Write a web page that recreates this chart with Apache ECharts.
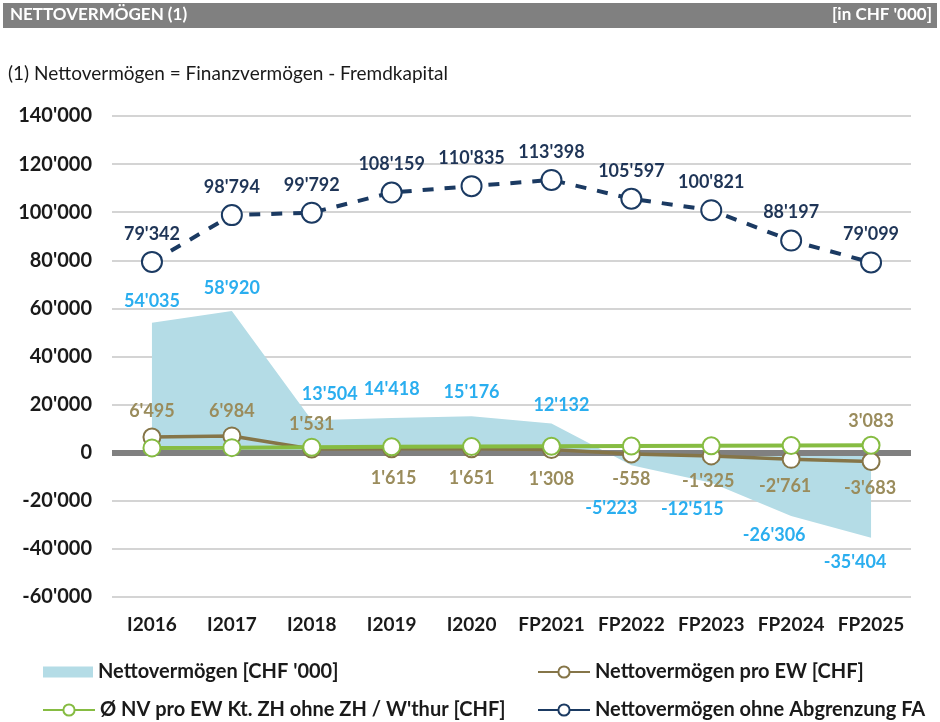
<!DOCTYPE html>
<html><head><meta charset="utf-8">
<script src="https://cdn.jsdelivr.net/npm/echarts@6/dist/echarts.min.js"></script>
<style>html,body{margin:0;padding:0;background:#fff}#c{width:940px;height:722px}</style>
</head><body><div id="c"></div>
<script>
const categories = ['I2016','I2017','I2018','I2019','I2020','FP2021','FP2022','FP2023','FP2024','FP2025'];
const nettoVermoegen = [54035, 58920, 13504, 14418, 15176, 12132, -5223, -12515, -26306, -35404];
const nvProEW = [6495, 6984, 1531, 1615, 1651, 1308, -558, -1325, -2761, -3683];
const nvKtZH = [2000, 2100, 2300, 2500, 2600, 2700, 2800, 2900, 3000, 3083];
const nvOhneFA = [79342, 98794, 99792, 108159, 110835, 113398, 105597, 100821, 88197, 79099];
const yTicks = [-60000, -40000, -20000, 0, 20000, 40000, 60000, 80000, 100000, 120000, 140000];

const seriesNames = ['Nettovermögen [CHF \'000]', 'Nettovermögen pro EW [CHF]', 'Ø NV pro EW Kt. ZH ohne ZH / W\'thur [CHF]', 'Nettovermögen ohne Abgrenzung FA'];

// label layout (offsets in px, not data)
const blueOff = [[0,-7],[0,-8],[18,-12],[0,-14],[0,-10],[10,-4],[-20,28],[-19,12],[-17,5],[-16,10]];
const brownBelow = [false,false,false,true,true,true,true,true,true,true];
const brownOff = [[0,-2],[0,-1],[0,-1],[2,6],[0,6],[0,6],[0,2],[-3,2],[-6,3],[-1,3]];

function fmt(v){
  const s = Math.abs(Math.round(v)).toString().replace(/\B(?=(\d{3})+(?!\d))/g, "'");
  return (v < 0 ? '-' : '') + s;
}
const FONT = 'Lato';
const cBlueFill = '#B4DCE6', cBlueLbl = '#2AAEEF', cBrown = '#857548', cBrownLbl = '#9A8C5C', cGreen = '#86BC42', cNavy = '#1B3A62';

const blueData = nettoVermoegen.map((v,i)=>({value:v, label:{position: v>=0?'top':'bottom', offset: blueOff[i]}}));
const brownData = nvProEW.map((v,i)=>({value:v, label:{position: brownBelow[i]?'bottom':'top', offset: brownOff[i]}}));
const greenData = nvKtZH.map((v,i)=>({value:v, label:{show: i===nvKtZH.length-1}}));

const chart = echarts.init(document.getElementById('c'), null, {renderer:'canvas'});
const lblBase = {fontFamily: FONT, fontWeight: 'bold', fontSize: 18};
const legText = {fontFamily:FONT, fontSize:20, fontWeight:'bold', color:'#1a1a1a'};
chart.setOption({
  animation: false,
  textStyle: {fontFamily: FONT},
  graphic: [
    {type:'rect', shape:{x:3, y:3, width:934, height:25}, style:{fill:'#808080'}, z:0},
    {type:'text', left:10, top:6, style:{text:'NETTOVERMÖGEN (1)', fill:'#fff', font:'bold 17px Lato'}},
    {type:'text', right:8, top:6, style:{text:"[in CHF '000]", fill:'#fff', font:'bold 17px Lato', textAlign:'right'}},
    {type:'text', left:8, top:64, style:{text:'(1) Nettovermögen = Finanzvermögen - Fremdkapital', fill:'#1a1a1a', font:'19px Lato'}}
  ],
  grid: {left:112, right:29, top:116, bottom:125, containLabel:false},
  xAxis: {
    type:'category', data: categories, boundaryGap:true,
    axisLine:{show:false}, axisTick:{show:false},
    axisLabel:{interval:0, color:'#1a1a1a', fontFamily:FONT, fontWeight:'bold', fontSize:19, margin:18}
  },
  yAxis: {
    type:'value', min: yTicks[0], max: yTicks[yTicks.length-1], interval: 20000,
    axisLine:{show:false}, axisTick:{show:false},
    splitLine:{lineStyle:{color:'#D4D4D4', width:2}},
    axisLabel:{color:'#1a1a1a', fontFamily:FONT, fontWeight:'bold', fontSize:20, margin:20, formatter: v=>fmt(v)}
  },
  legend: [
    {left:43, top:662, padding:0, itemWidth:50, itemHeight:11, itemGap:0, data:[{name:seriesNames[0], icon:'rect', itemStyle:{color:cBlueFill}}], textStyle:legText},
    {left:537, top:662, padding:0, itemWidth:52, itemHeight:14, data:[seriesNames[1]], textStyle:legText},
    {left:42, top:700, padding:0, itemWidth:52, itemHeight:14, data:[seriesNames[2]], textStyle:legText},
    {left:537, top:700, padding:0, itemWidth:52, itemHeight:14, lineStyle:{type:'solid'}, data:[{name:seriesNames[3], lineStyle:{type:'solid'}}], textStyle:legText}
  ],
  series: [
    {
      name: seriesNames[0], type:'line', data: blueData, z:1,
      symbol:'circle', symbolSize:1, itemStyle:{color:'rgba(0,0,0,0)'},
      lineStyle:{width:0}, areaStyle:{color:cBlueFill, opacity:1},
      label:{show:true, ...lblBase, color:cBlueLbl, formatter: p=>fmt(p.value)},
      markLine:{silent:true, symbol:'none', label:{show:false}, lineStyle:{color:'#808080', width:6, type:'solid'}, data:[{yAxis:0}], z:2}
    },
    {
      name: seriesNames[1], type:'line', data: brownData, z:3,
      symbol:'circle', symbolSize:17, itemStyle:{color:'#fff', borderColor:cBrown, borderWidth:2},
      lineStyle:{color:cBrown, width:3.5},
      label:{show:true, ...lblBase, color:cBrownLbl, formatter: p=>fmt(p.value)}
    },
    {
      name: seriesNames[2], type:'line', data: greenData, z:4,
      symbol:'circle', symbolSize:17, itemStyle:{color:'#fff', borderColor:cGreen, borderWidth:2},
      lineStyle:{color:cGreen, width:4},
      label:{show:false, position:'top', distance:6, ...lblBase, color:cBrownLbl, formatter: p=>fmt(p.value)}
    },
    {
      name: seriesNames[3], type:'line', data: nvOhneFA, z:5,
      symbol:'circle', symbolSize:20, itemStyle:{color:'#fff', borderColor:cNavy, borderWidth:2},
      lineStyle:{color:cNavy, width:4, type:[11,11]},
      label:{show:true, position:'top', distance:8, ...lblBase, color:'#1F3557', formatter: p=>fmt(p.value)}
    }
  ]
});
</script></body></html>
